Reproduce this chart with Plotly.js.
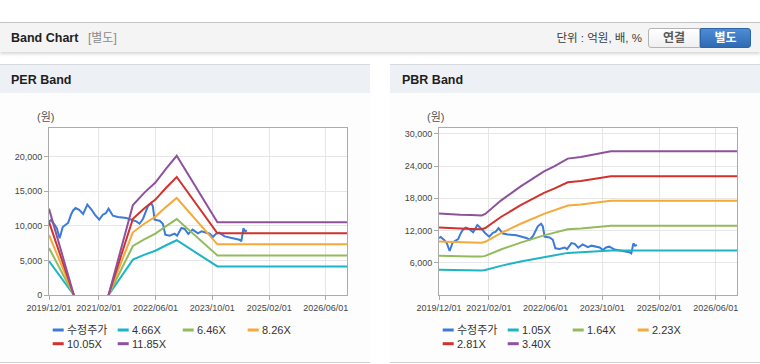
<!DOCTYPE html>
<html>
<head>
<meta charset="utf-8">
<script src="https://cdn.plot.ly/plotly-3.0.1.min.js"></script>
<style>
  html, body { margin:0; padding:0; background:#ffffff; }
  body { width:760px; height:364px; overflow:hidden; font-family:"Liberation Sans","Noto Sans CJK KR",sans-serif; }
  #wrap { position:relative; width:760px; height:364px; }
  .abs { position:absolute; }
  .hdr { left:0; top:22px; width:760px; height:30px; background:#f4f4f4; border-top:1px solid #c4c4c4; box-sizing:border-box; box-shadow:0 2px 3px rgba(0,0,0,0.16); }
  .title { font-weight:bold; font-size:12.5px; color:#1e1e1e; line-height:16px; }
  .sub { font-size:12px; color:#8a8a8a; line-height:16px; }
  .unit { font-size:11.5px; color:#3c3c3c; line-height:16px; }
  .btn { top:28px; height:20px; box-sizing:border-box; font-size:12px; font-weight:bold; text-align:center; line-height:18px; }
  .b1 { left:648px; width:52px; border:1px solid #b4b4b4; border-radius:3px 0 0 3px; background:linear-gradient(#ffffff,#efefef); color:#5a5a5a; }
  .b2 { left:700px; width:51px; border:1px solid #2d63a7; border-radius:0 3px 3px 0; background:linear-gradient(#4d8dd6,#2e6bb3); color:#ffffff; }
  .phead { top:64px; height:29px; background:#edf1f6; border-top:1px solid #d6dade; box-sizing:border-box; }
  .pbody { top:93px; height:270px; background:#fdfdfd; border-bottom:1px solid #d2d2d2; box-sizing:border-box; }
</style>
</head>
<body>
<div id="wrap">
  <div class="abs hdr">
    <div class="abs title" style="left:11px;top:7px;">Band Chart</div>
    <div class="abs sub" style="left:88px;top:7px;">[별도]</div>
    <div class="abs unit" style="right:118px;top:7px;">단위 : 억원, 배, %</div>
  </div>
  <div class="abs btn b1">연결</div>
  <div class="abs btn b2">별도</div>

  <div class="abs phead" style="left:0;width:370px;">
    <div class="abs title" style="left:11px;top:7px;">PER Band</div>
  </div>
  <div class="abs phead" style="left:390px;width:370px;">
    <div class="abs title" style="left:12px;top:7px;">PBR Band</div>
  </div>
  <div class="abs pbody" style="left:0;width:370px;"></div>
  <div class="abs pbody" style="left:390px;width:370px;"></div>

  <div id="per" class="abs" style="left:0;top:93px;width:370px;height:269px;"></div>
  <div id="pbr" class="abs" style="left:390px;top:93px;width:370px;height:269px;"></div>
</div>

<script>
// ---------- data ----------
const priceDates = ['2019-12-01','2019-12-16','2020-01-16','2020-02-07','2020-03-01','2020-03-28','2020-04-19','2020-05-13','2020-06-07','2020-06-25','2020-07-16','2020-08-16','2020-09-19','2020-10-25','2020-12-01','2020-12-28','2021-02-04','2021-03-07','2021-04-01','2021-04-25','2021-06-01','2021-07-13','2021-09-25','2021-11-07','2021-12-19','2022-01-16','2022-02-15','2022-03-28','2022-04-25','2022-05-10','2022-05-25','2022-07-07','2022-08-04','2022-08-25','2022-10-01','2022-11-13','2022-12-04','2023-01-10','2023-02-07','2023-03-10','2023-04-16','2023-06-01','2023-07-01','2023-09-10','2023-10-07','2023-11-04','2023-12-01','2024-01-16','2024-02-28','2024-04-10','2024-05-22','2024-06-07','2024-06-25','2024-07-10','2024-07-25'];
const priceValues = [10600,10800,10200,9600,8200,9800,10100,10400,11600,12200,12550,12300,11700,13030,12300,11600,10870,11590,11800,12450,11440,11250,11110,10870,10620,10290,11010,12790,13270,12790,10870,10720,10290,8700,8560,8850,8560,9670,9530,8800,9430,8900,9190,8850,8370,8850,9000,8460,8320,8180,7980,7750,9620,9190,9330];

const perBandDates = ['2019-12-01','2020-07-01','2020-10-01','2021-04-25','2021-11-20','2022-03-01','2022-06-01','2022-09-01','2022-12-01','2023-11-15','2026-12-01'];
const perBand466  = [4893, 0, null, 0, 5103, 5825, 6384, 7176, 7899, 4124, 4124];
const perBand646  = [6783, 0, null, 0, 7074, 8075, 8850, 9948, 10950, 5717, 5717];
const perBand826  = [8673, 0, null, 0, 9045, 10325, 11316, 12720, 14001, 7310, 7310];
const perBand1005 = [10553, 0, null, 0, 11005, 12563, 13769, 15477, 17035, 8894, 8894];
const perBand1185 = [12443, 0, null, 0, 12976, 14813, 16235, 18249, 20086, 10487, 10487];

const pbrBandDates = ['2019-12-01','2020-03-01','2020-06-01','2020-09-01','2020-12-01','2021-01-01','2021-05-15','2021-11-01','2022-05-20','2022-08-15','2022-12-10','2023-04-01','2023-08-01','2023-12-15','2026-12-01'];
const pbrBand105 = [4694,4641,4620,4599,4578,4662,5429,6248,7109,7403,7844,7938,8075,8264,8264];
const pbrBand164 = [7331,7249,7216,7183,7150,7282,8479,9758,11103,11562,12251,12398,12612,12907,12907];
const pbrBand223 = [9968,9857,9812,9767,9723,9901,11529,13269,15097,15722,16658,16859,17149,17550,17550];
const pbrBand281 = [12561,12420,12364,12308,12252,12476,14528,16720,19024,19811,20991,21244,21609,22115,22115];
const pbrBand340 = [15198,15028,14960,14892,14824,15096,17578,20230,23018,23970,25398,25704,26146,26758,26758];

const perNames = ['수정주가','4.66X','6.46X','8.26X','10.05X','11.85X'];
const pbrNames = ['수정주가','1.05X','1.64X','2.23X','2.81X','3.40X'];

const xTickVals = ['2019-12-01','2021-02-01','2022-06-01','2023-10-01','2025-02-01','2026-06-01'];
const xTickText = ['2019/12/01','2021/02/01','2022/06/01','2023/10/01','2025/02/01','2026/06/01'];
const perYTickVals = [0,5000,10000,15000,20000];
const perYTickText = ['0','5,000','10,000','15,000','20,000'];
const pbrYTickVals = [6000,12000,18000,24000,30000];
const pbrYTickText = ['6,000','12,000','18,000','24,000','30,000'];

const seriesColors = ['#3b7ad6','#1db4c6','#93bb5d','#f4a93b','#d1322d','#8e529c'];

// ---------- helpers ----------
const FONT = '"Liberation Sans","Noto Sans CJK KR",sans-serif';
const M = {l:49, r:23, t:35, b:67};
const W = 370, H = 269;
const PW = W - M.l - M.r, PH = H - M.t - M.b;
function px2x(xd){ return (xd - M.l) / PW; }
function px2y(yd){ return (M.t + PH - yd) / PH; }

function legendParts(names){
  const shapes = [], annotations = [];
  names.forEach((n, i) => {
    const col = i % 4, row = Math.floor(i / 4);
    const xd = 52.7 + col * 65;
    const yd = 237 + row * 13.7;
    shapes.push({type:'line', xref:'paper', yref:'paper',
      x0:px2x(xd), x1:px2x(xd + 11), y0:px2y(yd), y1:px2y(yd),
      line:{color:seriesColors[i], width:3}});
    annotations.push({xref:'paper', yref:'paper', x:px2x(xd + 12), y:px2y(yd),
      xanchor:'left', yanchor:'middle', showarrow:false, text:n,
      font:{family:FONT, size:11, color:'#333333'}});
  });
  annotations.push({xref:'paper', yref:'paper', x:px2x(45), y:px2y(24),
    xanchor:'center', yanchor:'middle', showarrow:false, text:'(원)',
    font:{family:FONT, size:11, color:'#555555'}});
  return {shapes, annotations};
}

function makeLayout(names, yMax, yVals, yText){
  const lg = legendParts(names);
  const axisCommon = {
    showgrid:true, gridcolor:'#e6e6e6', gridwidth:1,
    showline:true, mirror:true, linecolor:'#ababab', linewidth:1,
    ticks:'outside', ticklen:4, tickcolor:'#ababab',
    zeroline:false, fixedrange:true,
    tickfont:{family:FONT, size:9, color:'#454545'}
  };
  return {
    width:W, height:H, margin:M,
    paper_bgcolor:'rgba(0,0,0,0)', plot_bgcolor:'#ffffff',
    showlegend:false,
    xaxis:Object.assign({}, axisCommon, {type:'date', range:['2019-12-01','2026-12-01'],
      tickmode:'array', tickvals:xTickVals, ticktext:xTickText}),
    yaxis:Object.assign({}, axisCommon, {range:[0, yMax],
      tickmode:'array', tickvals:yVals, ticktext:yText}),
    shapes:lg.shapes, annotations:lg.annotations
  };
}

function lineTrace(x, y, name, color){
  return {type:'scatter', mode:'lines', x:x, y:y, name:name,
    line:{color:color, width:2}, connectgaps:false, hoverinfo:'skip'};
}

const perTraces = [
  lineTrace(priceDates, priceValues, perNames[0], seriesColors[0]),
  lineTrace(perBandDates, perBand466, perNames[1], seriesColors[1]),
  lineTrace(perBandDates, perBand646, perNames[2], seriesColors[2]),
  lineTrace(perBandDates, perBand826, perNames[3], seriesColors[3]),
  lineTrace(perBandDates, perBand1005, perNames[4], seriesColors[4]),
  lineTrace(perBandDates, perBand1185, perNames[5], seriesColors[5])
];
const pbrTraces = [
  lineTrace(priceDates, priceValues, pbrNames[0], seriesColors[0]),
  lineTrace(pbrBandDates, pbrBand105, pbrNames[1], seriesColors[1]),
  lineTrace(pbrBandDates, pbrBand164, pbrNames[2], seriesColors[2]),
  lineTrace(pbrBandDates, pbrBand223, pbrNames[3], seriesColors[3]),
  lineTrace(pbrBandDates, pbrBand281, pbrNames[4], seriesColors[4]),
  lineTrace(pbrBandDates, pbrBand340, pbrNames[5], seriesColors[5])
];

const cfg = {displayModeBar:false, staticPlot:true};
Plotly.newPlot('per', perTraces, makeLayout(perNames, 24100, perYTickVals, perYTickText), cfg);
Plotly.newPlot('pbr', pbrTraces, makeLayout(pbrNames, 31100, pbrYTickVals, pbrYTickText), cfg);
</script>
</body>
</html>
